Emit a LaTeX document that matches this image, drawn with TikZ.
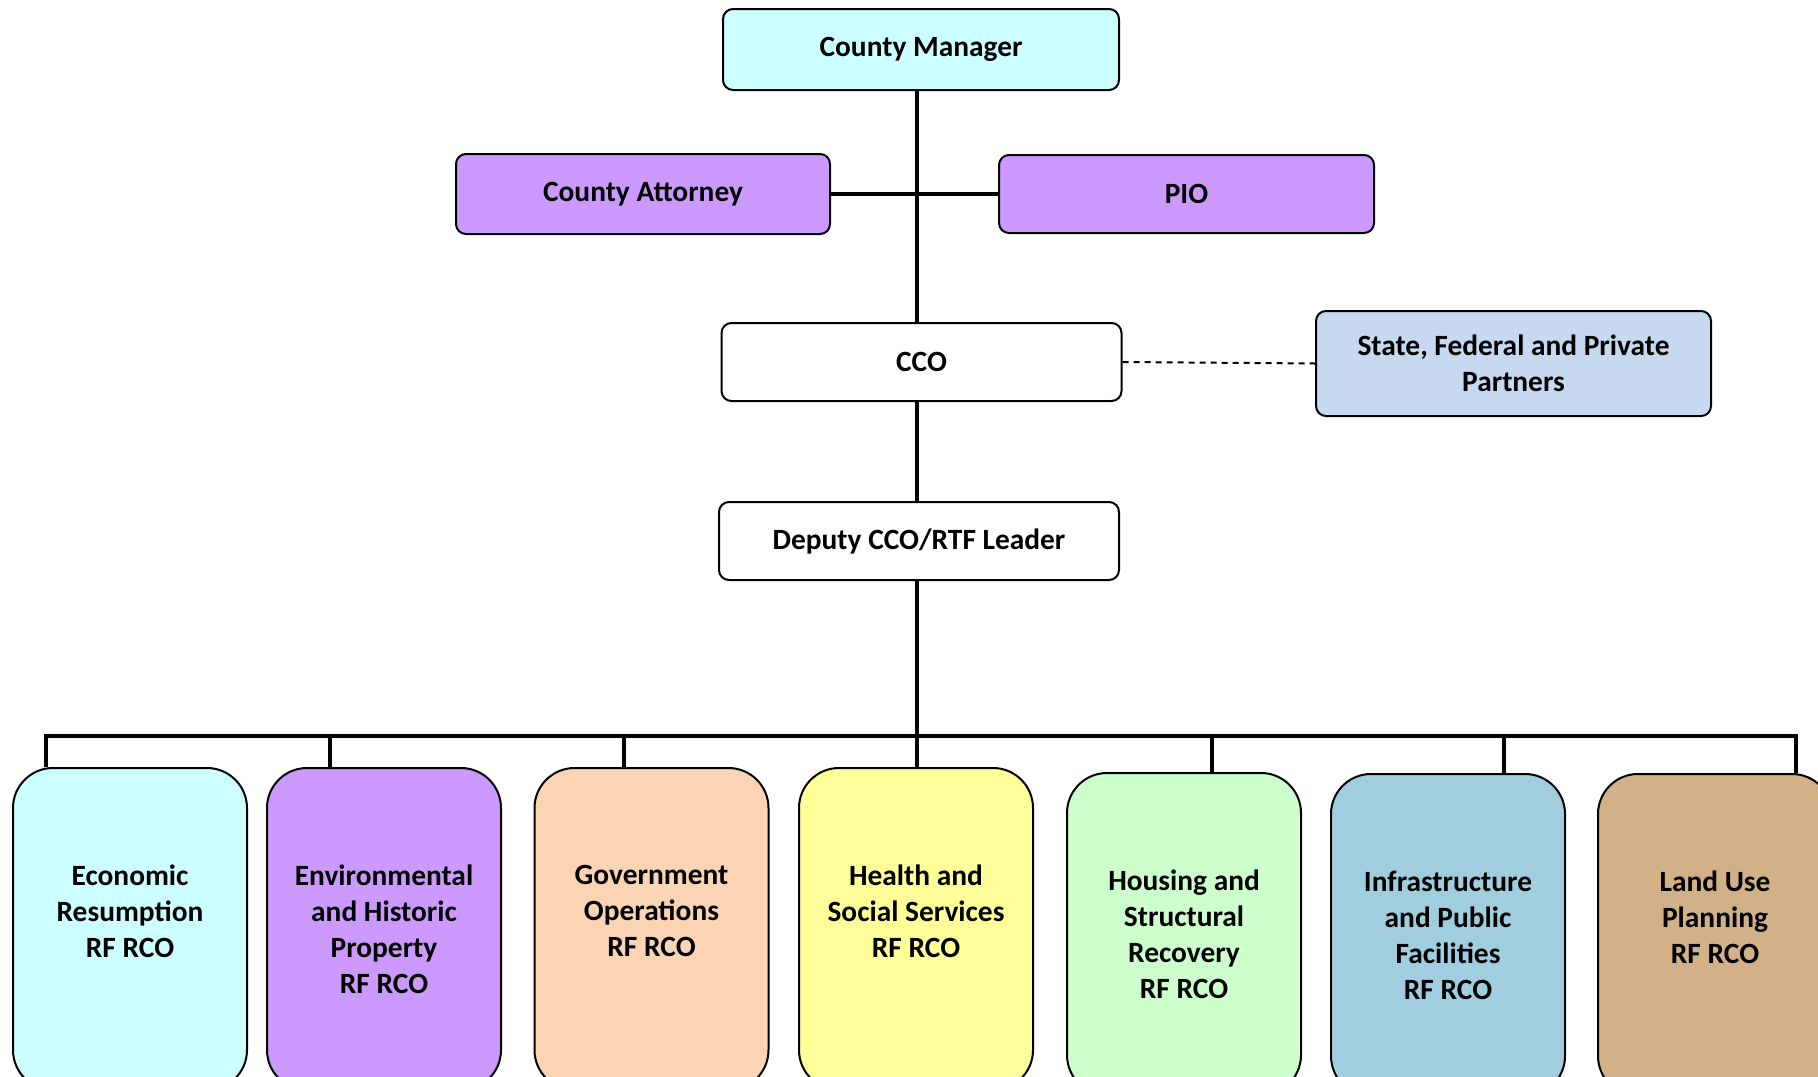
\documentclass[tikz,border=0pt]{standalone}
\usepackage{fontspec}
\setmainfont{Carlito}
\usetikzlibrary{calc}
\definecolor{cmcyan}{HTML}{CCFFFF}
\definecolor{lav}{HTML}{CC99FF}
\definecolor{steel}{HTML}{C6D9F1}
\definecolor{peach}{HTML}{FBD4B4}
\definecolor{lyellow}{HTML}{FFFF99}
\definecolor{lgreen}{HTML}{CCFFCC}
\definecolor{aqua}{HTML}{A0CEDF}
\definecolor{tan}{HTML}{D3B188}
\begin{document}
\begin{tikzpicture}[x=0.5pt,y=-0.5pt,
  every node/.style={font=\bfseries\fontsize{14.7}{18}\selectfont, align=center, inner sep=0pt},
  topbox/.style={draw=black, line width=1pt, rounded corners=5pt, minimum width=#1},
  rfbox/.style={draw=black, line width=1pt, rounded corners=20pt, minimum width=117pt, minimum height=161pt, anchor=north},
  txt/.style={text=black},
  conn/.style={line width=2pt},
  dashconn/.style={line width=1pt, dash pattern=on 3pt off 2.5pt}]
\useasboundingbox (0,0) rectangle (1818,1076);
\clip (0,0) rectangle (1818,1076);
% top nodes
\node[topbox=198pt, minimum height=40.5pt, fill=cmcyan] (cm) at (921,49.5) {\raisebox{-1pt}{County Manager}};
\node[topbox=187pt, minimum height=40pt, fill=lav] (ca) at (643,194) {County Attorney};
\node[topbox=187.5pt, minimum height=39pt, fill=lav] (pio) at (1186.5,194) {PIO};
\node[topbox=200pt, minimum height=39pt, fill=white] (cco) at (921.5,362) {CCO};
\node[topbox=197.5pt, minimum height=52.5pt, fill=steel] (st) at (1513.5,363.5) {State, Federal and Private\\Partners};
\node[topbox=200pt, minimum height=39pt, fill=white] (dep) at (919,541) {\raisebox{-1.5pt}{Deputy CCO/RTF Leader}};
% bottom boxes
\node[rfbox, fill=cmcyan] (b1) at (130,767) {};
\node[rfbox, fill=lav] (b2) at (384,767) {};
\node[rfbox, fill=peach] (b3) at (651.5,767) {};
\node[rfbox, fill=lyellow] (b4) at (916,767) {};
\node[rfbox, fill=lgreen] (b5) at (1184,772) {};
\node[rfbox, fill=aqua] (b6) at (1448,773) {};
\node[rfbox, fill=tan] (b7) at (1715,773) {};
\node[txt] (t1) at (130,911) {Economic\\Resumption\\RF RCO};
\node[txt] (t2) at (384,929) {Environmental\\and Historic\\Property\\RF RCO};
\node[txt] (t3) at (651.5,911) {Government\\Operations\\RF RCO};
\node[txt] (t4) at (916,911) {Health and\\Social Services\\RF RCO};
\node[txt] (t5) at (1184,934.5) {Housing and\\Structural\\Recovery\\RF RCO};
\node[txt] (t6) at (1448,935) {Infrastructure\\and Public\\Facilities\\RF RCO};
\node[txt] (t7) at (1715,917) {Land Use\\Planning\\RF RCO};
% connectors
\coordinate (sp) at (917,0);
\draw[conn] (cm.south -| sp) -- (cco.north -| sp);
\draw[conn] (ca.east) -- (pio.west);
\draw[dashconn] (cco.east) -- (st.west);
\draw[conn] (cco.south -| sp) -- (dep.north -| sp);
\coordinate (bus) at (917,736);
\draw[conn] (dep.south -| sp) -- (bus);
\coordinate (d1) at (46,736);
\coordinate (d2) at (330,736);
\coordinate (d3) at (624,736);
\coordinate (d4) at (917,736);
\coordinate (d5) at (1212,736);
\coordinate (d6) at (1504,736);
\coordinate (d7) at (1796,736);
\draw[conn, line cap=rect] (d1) -- (d7);
\draw[conn] (d1) -- (d1 |- b1.north);
\draw[conn] (d2) -- (d2 |- b2.north);
\draw[conn] (d3) -- (d3 |- b3.north);
\draw[conn] (d4) -- (d4 |- b4.north);
\draw[conn] (d5) -- (d5 |- b5.north);
\draw[conn] (d6) -- (d6 |- b6.north);
\draw[conn] (d7) -- (d7 |- b7.north);
\end{tikzpicture}
\end{document}
